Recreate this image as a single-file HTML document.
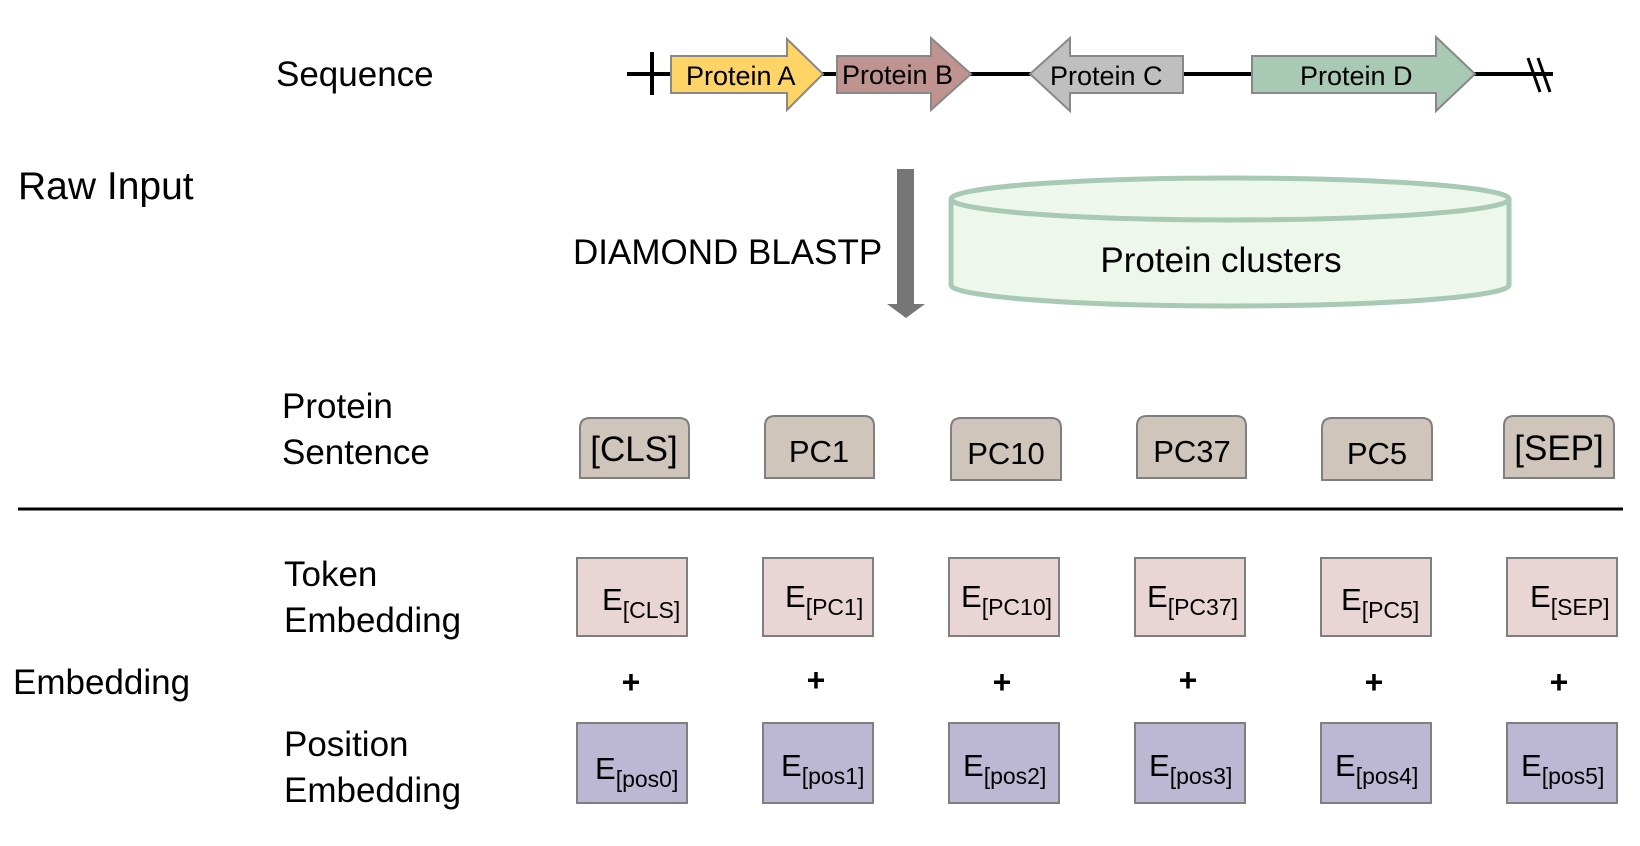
<!DOCTYPE html>
<html><head><meta charset="utf-8"><style>
html,body{margin:0;padding:0;background:#fff;}
svg{display:block;font-family:"Liberation Sans",sans-serif;}
</style></head><body>
<svg width="1640" height="846" viewBox="0 0 1640 846" xmlns="http://www.w3.org/2000/svg">
<g font-size="35" fill="#000">
<text x="276" y="86">Sequence</text>
<text x="18" y="199" font-size="39">Raw Input</text>
<text x="573" y="264">DIAMOND BLASTP</text>
<text x="282" y="418">Protein</text>
<text x="282" y="464">Sentence</text>
<text x="284" y="586">Token</text>
<text x="284" y="632">Embedding</text>
<text x="13" y="694">Embedding</text>
<text x="284" y="756">Position</text>
<text x="284" y="802">Embedding</text>
</g>
<!-- sequence line -->
<line x1="627" y1="74" x2="1553" y2="74" stroke="#000" stroke-width="4"/>
<line x1="652" y1="52" x2="652" y2="95" stroke="#000" stroke-width="4"/>
<line x1="1528" y1="58" x2="1540" y2="92" stroke="#000" stroke-width="3"/>
<line x1="1538" y1="58" x2="1550" y2="92" stroke="#000" stroke-width="3"/>
<g stroke="#888" stroke-width="2">
<polygon points="671,56 787,56 787,39 823,74 787,110 787,93 671,93" fill="#ffd466"/>
<polygon points="837,56 931,56 931,38 971,74 931,110 931,93 837,93" fill="#bf9390"/>
<polygon points="1183,56 1070,56 1070,38 1030,74 1070,111 1070,93 1183,93" fill="#bfbfbf"/>
<polygon points="1252,56 1436,56 1436,37 1475,74 1436,111 1436,93 1252,93" fill="#a8c9b4"/>
</g>
<g font-size="27" fill="#000">
<text x="686" y="85">Protein A</text>
<text x="842" y="84">Protein B</text>
<text x="1050" y="85">Protein C</text>
<text x="1300" y="85">Protein D</text>
</g>
<!-- arrow -->
<rect x="897" y="169" width="17" height="136" fill="#767676"/>
<polygon points="887,304 925,304 906,318" fill="#767676"/>
<!-- cylinder -->
<path d="M951,199 L951,285 A279,21 0 0 0 1509,285 L1509,199" fill="#eef7ec" stroke="#a8c9b4" stroke-width="5"/>
<ellipse cx="1230" cy="199" rx="279" ry="21" fill="#eef7ec" stroke="#a8c9b4" stroke-width="5"/>
<text x="1221" y="272" font-size="35" text-anchor="middle">Protein clusters</text>
<!-- separator -->
<line x1="18" y1="509" x2="1623" y2="509" stroke="#000" stroke-width="3"/>
<!-- token boxes -->
<g stroke="#7f7f7f" stroke-width="2" fill="#cfc5bb">
<path d="M580,478 L580,428 Q580,418 590,418 L679,418 Q689,418 689,428 L689,478 Z"/>
<path d="M765,478 L765,426 Q765,416 775,416 L864,416 Q874,416 874,426 L874,478 Z"/>
<path d="M951,480 L951,428 Q951,418 961,418 L1051,418 Q1061,418 1061,428 L1061,480 Z"/>
<path d="M1137,478 L1137,426 Q1137,416 1147,416 L1236,416 Q1246,416 1246,426 L1246,478 Z"/>
<path d="M1322,480 L1322,428 Q1322,418 1332,418 L1422,418 Q1432,418 1432,428 L1432,480 Z"/>
<path d="M1504,478 L1504,426 Q1504,416 1514,416 L1604,416 Q1614,416 1614,426 L1614,478 Z"/>
</g>
<g font-size="31" text-anchor="middle">
<text x="634" y="461" font-size="35">[CLS]</text>
<text x="819" y="462">PC1</text>
<text x="1006" y="464">PC10</text>
<text x="1192" y="462">PC37</text>
<text x="1377" y="464">PC5</text>
<text x="1559" y="460" font-size="35">[SEP]</text>
</g>
<!-- token embeddings -->
<g stroke="#7f7f7f" stroke-width="2" fill="#e9d5d4">
<rect x="577" y="558" width="110" height="78"/>
<rect x="763" y="558" width="110" height="78"/>
<rect x="949" y="558" width="110" height="78"/>
<rect x="1135" y="558" width="110" height="78"/>
<rect x="1321" y="558" width="110" height="78"/>
<rect x="1507" y="558" width="110" height="78"/>
</g>
<g font-size="31">
<text x="602" y="610">E<tspan font-size="23" dy="8">[CLS]</tspan></text>
<text x="785" y="607">E<tspan font-size="23" dy="8">[PC1]</tspan></text>
<text x="961" y="607">E<tspan font-size="23" dy="8">[PC10]</tspan></text>
<text x="1147" y="607">E<tspan font-size="23" dy="8">[PC37]</tspan></text>
<text x="1341" y="610">E<tspan font-size="23" dy="8">[PC5]</tspan></text>
<text x="1530" y="607">E<tspan font-size="23" dy="8">[SEP]</tspan></text>
</g>
<g font-size="32" font-weight="bold" text-anchor="middle">
<text x="631" y="693">+</text><text x="816" y="691">+</text><text x="1002" y="693">+</text>
<text x="1188" y="691">+</text><text x="1374" y="693">+</text><text x="1559" y="693">+</text>
</g>
<!-- position embeddings -->
<g stroke="#7f7f7f" stroke-width="2" fill="#bcb8d4">
<rect x="577" y="723" width="110" height="80"/>
<rect x="763" y="723" width="110" height="80"/>
<rect x="949" y="723" width="110" height="80"/>
<rect x="1135" y="723" width="110" height="80"/>
<rect x="1321" y="723" width="110" height="80"/>
<rect x="1507" y="723" width="110" height="80"/>
</g>
<g font-size="31">
<text x="595" y="779">E<tspan font-size="23" dy="8">[pos0]</tspan></text>
<text x="781" y="776">E<tspan font-size="23" dy="8">[pos1]</tspan></text>
<text x="963" y="776">E<tspan font-size="23" dy="8">[pos2]</tspan></text>
<text x="1149" y="776">E<tspan font-size="23" dy="8">[pos3]</tspan></text>
<text x="1335" y="776">E<tspan font-size="23" dy="8">[pos4]</tspan></text>
<text x="1521" y="776">E<tspan font-size="23" dy="8">[pos5]</tspan></text>
</g>
</svg>
</body></html>
